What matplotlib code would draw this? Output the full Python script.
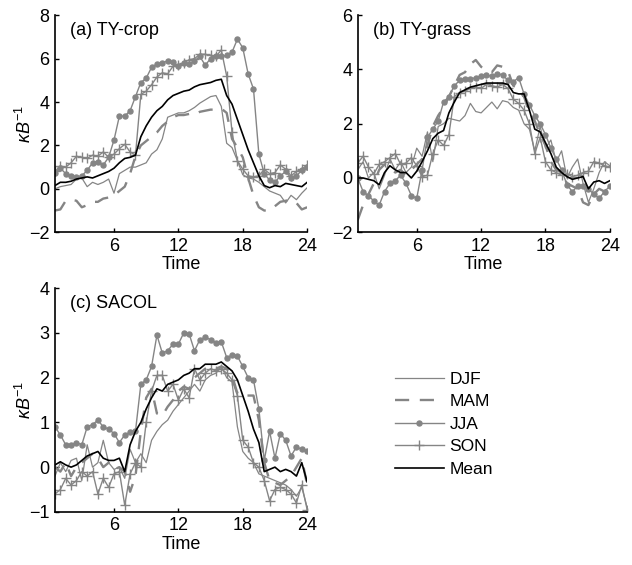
import numpy as np
import matplotlib
matplotlib.use("Agg")
import matplotlib.pyplot as plt

plt.rcParams['font.family'] = ['Liberation Sans', 'DejaVu Sans']
plt.rcParams['mathtext.fontset'] = 'custom'
plt.rcParams['mathtext.rm'] = 'Liberation Sans'
plt.rcParams['mathtext.it'] = 'Liberation Sans:italic'

time = np.arange(1, 49) * 0.5  # 0.5 ... 24.0

# ---------------- (a) TY-crop ----------------
a_djf = [0.0, 0.1, 0.15, 0.2, 0.45, 0.5, 0.1, 0.3, 0.2, 0.3, 0.45, -0.2,
         0.7, 0.85, 1.0, 1.0, 1.1, 1.2, 1.6, 1.8, 2.3, 3.3, 3.4, 3.5,
         3.5, 3.6, 3.75, 3.95, 4.1, 4.25, 4.3, 3.8, 2.1, 1.9, 1.3, 0.65,
         0.5, 0.45, 0.3, 0.1, -0.1, -0.2, -0.3, -0.65, -0.3, -0.5, -0.2, 0.05]
a_mam = [-1.0, -0.95, -0.55, -0.5, -0.55, -0.85, -0.75, -0.6, -0.6, -0.45, -0.4, -0.3,
         -0.1, 0.1, 0.7, 1.5, 2.0, 2.2, 2.4, 2.6, 2.9, 3.1, 3.3, 3.4,
         3.4, 3.45, 3.4, 3.55, 3.6, 3.65, 3.65, 3.7, 3.5, 2.3, 1.9, 1.45,
         0.5, -0.3, -0.85, -1.0, -1.0, -0.8, -0.6, -0.55, -0.5, -0.65, -0.95, -0.85]
a_jja = [0.75, 0.95, 0.7, 0.6, 0.55, 0.6, 0.85, 1.2, 1.25, 1.1, 1.45, 2.25,
         3.35, 3.35, 3.6, 4.25, 4.9, 5.1, 5.6, 5.75, 5.8, 5.9, 5.85, 5.65,
         5.8, 5.75, 5.9, 6.1, 5.7, 6.0, 6.1, 6.1, 6.15, 6.3, 6.9, 6.5,
         5.3, 4.6, 1.6, 0.7, 0.4, 0.3, 0.6, 0.8, 0.5, 0.6, 0.85, 1.0]
a_son = [0.8, 1.05, 1.0, 1.2, 1.5, 1.45, 1.4, 1.55, 1.5, 1.7, 1.45, 1.6,
         1.85, 2.05, 1.7, 1.55, 4.35, 4.5, 4.8, 5.15, 5.35, 5.3, 5.65, 5.7,
         5.8, 5.95, 6.0, 6.2, 6.2, 6.15, 6.1, 6.4, 5.2, 2.6, 1.3, 0.9,
         0.6, 0.55, 0.6, 0.9, 0.7, 0.75, 1.1, 0.9, 0.6, 0.8, 0.9, 1.1]
a_mean = [0.15, 0.3, 0.3, 0.35, 0.45, 0.5, 0.55, 0.5, 0.6, 0.7, 0.8, 0.95,
          1.2, 1.4, 1.45, 1.55, 2.4, 2.9, 3.3, 3.6, 3.8, 4.1, 4.3, 4.4,
          4.5, 4.55, 4.7, 4.8, 4.85, 4.9, 5.0, 5.05, 4.3, 3.9, 3.2, 2.5,
          1.8, 1.2, 0.6, 0.15, 0.05, 0.15, 0.1, 0.25, 0.2, 0.15, 0.1, 0.3]

# ---------------- (b) TY-grass ----------------
b_djf = [0.3, 0.6, 0.0, 0.2, -0.4, 0.1, 0.7, 0.3, 0.6, 0.2, 0.4, 1.1,
         0.8, 1.7, 0.6, 1.9, 2.0, 2.2, 2.15, 2.1, 2.3, 2.75, 2.45, 2.4,
         2.6, 2.8, 2.55, 2.85, 2.8, 2.6, 2.5, 2.0, 1.8, 1.0, 1.9, 1.1,
         1.4, 0.6, 1.0, 0.0, 0.4, 0.7, -0.2, -0.9, -0.4, 0.2, 0.6, 0.45]
b_mam = [-1.55, -1.0, -0.6, -0.2, 0.3, 0.5, 0.4, 0.2, 0.3, 0.1, 0.3, 0.5,
         0.7, 1.2, 1.9, 2.3, 2.6, 3.0, 3.4, 3.8, 3.9, 4.2, 4.35, 4.1,
         3.95, 3.9, 4.15, 4.1, 3.95, 3.4, 3.3, 3.0, 2.4, 2.1, 1.6, 1.2,
         0.6, 0.3, 0.2, -0.2, -0.3, -0.4, -0.9, -1.0, -0.6, -0.4, -0.5, -0.3]
b_jja = [0.0, -0.5, -0.65, -0.85, -1.0, -0.5, -0.2, -0.1, 0.1, -0.2, -0.65, -0.75,
         0.3, 1.5, 1.8, 2.1, 2.8, 3.0, 3.4, 3.6, 3.65, 3.65, 3.7, 3.75,
         3.8, 3.75, 3.85, 3.8, 3.6, 3.55, 3.7, 3.1, 2.7, 2.3, 2.0, 1.6,
         1.1, 0.7, 0.3, -0.25, -0.5, -0.3, -0.3, -0.4, -0.6, -0.75, -0.5, -0.3]
b_son = [0.55, 0.8, 0.4, 0.15, 0.5, 0.6, 0.75, 0.9, 0.5, 0.55, 0.75, 0.45,
         0.05, 0.1, 0.9, 1.4, 1.2, 1.6, 3.0, 3.15, 3.2, 3.3, 3.35, 3.3,
         3.45, 3.4, 3.35, 3.45, 3.3, 2.9, 2.75, 2.5, 2.0, 0.9, 1.5, 0.6,
         0.3, 0.2, 0.1, 0.15, 0.05, 0.1, 0.2, 0.25, 0.6, 0.55, 0.45, 0.4]
b_mean = [0.0, 0.0, -0.05, -0.1, -0.25, 0.2, 0.45, 0.3, 0.2, 0.2, 0.0, 0.25,
          0.6, 1.0, 1.45, 1.65, 1.75, 2.4, 2.8, 3.15, 3.25, 3.35, 3.4, 3.45,
          3.5, 3.5, 3.5, 3.5, 3.45, 3.15, 3.1, 3.1, 2.5, 1.8, 1.7, 1.3,
          0.9, 0.4, 0.2, 0.05, -0.05, 0.0, 0.05, -0.4, -0.15, -0.1, -0.2, -0.1]

# ---------------- (c) SACOL ----------------
c_djf = [-0.2, 0.1, -0.1, 0.15, 0.2, -0.3, 0.5, 0.0, 0.1, 0.6, 0.1, -0.05,
         0.0, -0.25, 0.4, 0.1, 0.3, 0.1, 0.6, 0.8, 0.95, 1.05, 1.25, 1.4,
         1.55, 1.7, 1.85, 1.7, 1.95, 2.05, 2.1, 2.25, 2.0, 1.9, 0.9, 0.35,
         0.2, 0.1, -0.15, -0.2, -0.25, -0.3, -0.35, -0.4, -0.5, -0.65, -0.45, -0.9]
c_mam = [0.0, -0.1, 0.1, -0.2, 0.0, 0.1, 0.2, 0.3, 0.2, 0.0, 0.1, -0.05,
         0.0, -0.1, -0.55, -0.2, 0.8, 1.55, 1.75, 1.2, 1.15, 1.35, 1.5, 1.7,
         1.8, 1.75, 2.0, 2.1, 2.2, 2.25, 2.2, 2.25, 2.2, 2.05, 1.65, 1.6,
         1.6, 1.6, 1.05, 0.1, -0.3, -0.35, -0.4, -0.3, -0.2, 0.0, 0.2, -0.4]
c_jja = [0.9, 0.72, 0.5, 0.5, 0.55, 0.5, 0.9, 0.95, 1.05, 0.9, 0.85, 0.75,
         0.55, 0.72, 0.78, 0.8, 1.85, 1.95, 2.25, 2.95, 2.55, 2.6, 2.75, 2.75,
         3.0, 2.98, 2.6, 2.85, 2.9, 2.85, 2.78, 2.8, 2.45, 2.5, 2.48, 2.25,
         2.0, 1.95, 1.3, 0.15, 0.8, 0.2, 0.75, 0.6, 0.25, 0.45, 0.4, 0.35]
c_son = [-0.6, -0.5, -0.25, -0.4, -0.3, -0.1, -0.2, -0.1, -0.6, -0.25, -0.45, -0.15,
         -0.1, -0.85, -0.15, 0.1, 0.0, 1.0, 1.7, 2.05, 2.05, 1.7, 1.85, 1.5,
         1.75, 1.55, 2.2, 1.95, 2.1, 2.2, 2.15, 2.2, 2.1, 1.95, 1.6, 0.6,
         0.45, 0.1, 0.0, -0.3, -0.75, -0.5, -0.45, -0.5, -0.6, -0.8, -0.4, -0.95]
c_mean = [0.05, 0.12, 0.05, 0.0, 0.05, 0.15, 0.25, 0.3, 0.35, 0.2, 0.15, 0.15,
          0.2, -0.1, 0.5, 0.8, 1.0, 1.3, 1.55, 1.75, 1.7, 1.85, 1.9, 1.95,
          2.05, 2.1, 2.2, 2.2, 2.3, 2.3, 2.3, 2.35, 2.25, 2.15, 1.95, 1.6,
          1.25, 0.85, 0.55, -0.1, -0.05, 0.0, -0.1, -0.05, -0.1, -0.2, 0.1, -0.33]

panels = [
    ("(a) TY-crop", [a_djf, a_mam, a_jja, a_son, a_mean], (-2, 8), [-2, 0, 2, 4, 6, 8], True),
    ("(b) TY-grass", [b_djf, b_mam, b_jja, b_son, b_mean], (-2, 6), [-2, 0, 2, 4, 6], False),
    ("(c) SACOL", [c_djf, c_mam, c_jja, c_son, c_mean], (-1, 4), [-1, 0, 1, 2, 3, 4], True),
]
series_names = ["DJF", "MAM", "JJA", "SON", "Mean"]
xticks = [6, 12, 18, 24]

GRAY = "#858585"
styles = [
    dict(color=GRAY, lw=0.9, ls='-'),
    dict(color=GRAY, lw=1.7, ls=(0, (6, 4.5))),
    dict(color=GRAY, lw=1.0, ls='-', marker='o', ms=3.6, mec=GRAY, mfc=GRAY),
    dict(color=GRAY, lw=1.0, ls='-', marker='+', ms=7, mew=1.0),
    dict(color='black', lw=1.2, ls='-'),
]

fig = plt.figure(figsize=(6.32, 5.65), dpi=100)
positions = [
    [0.087, 0.589, 0.399, 0.384],
    [0.566, 0.589, 0.399, 0.384],
    [0.087, 0.094, 0.399, 0.396],
]

FS = 13
handles = None
for (title, data, ylim, yticks, ylab), pos in zip(panels, positions):
    ax = fig.add_axes(pos)
    hs = []
    for vals, st, name in zip(data, styles, series_names):
        h, = ax.plot(time, vals, label=name, **st)
        hs.append(h)
    handles = hs
    ax.set_xlim(0.5, 24)
    ax.set_ylim(*ylim)
    ax.set_xticks(xticks)
    ax.set_yticks(yticks)
    ax.set_yticklabels([str(v).replace('-', '\u2212') for v in yticks])
    ax.spines['top'].set_visible(False)
    ax.spines['right'].set_visible(False)
    for s in ['left', 'bottom']:
        ax.spines[s].set_linewidth(1.2)
    ax.tick_params(direction='in', length=3, width=1.0, labelsize=FS, pad=4)
    ax.set_xlabel("Time", fontsize=FS, labelpad=1)
    if ylab:
        ax.set_ylabel(r"$\kappa B^{-1}$", fontsize=FS)
        ax.yaxis.set_label_coords(-0.078, 0.5)
    ax.text(0.06, 0.97, title, transform=ax.transAxes, fontsize=FS,
            ha='left', va='top')

fig.legend(handles, series_names, loc='center left',
           bbox_to_anchor=(0.625, 0.249), frameon=False, fontsize=12.5,
           handlelength=2.8, handletextpad=0.35, labelspacing=0.42,
           borderpad=0, borderaxespad=0)

fig.savefig("out.png", dpi=100)
